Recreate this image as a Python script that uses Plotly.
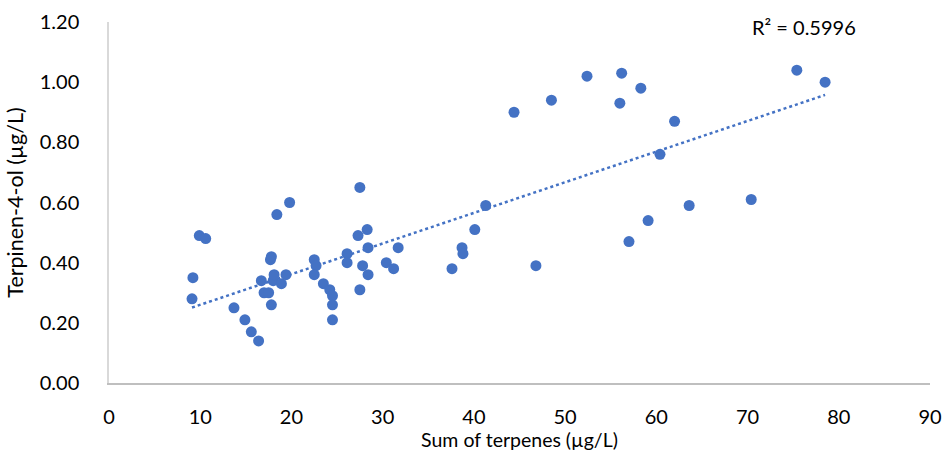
import numpy as np
import plotly.graph_objects as go

# Data
sum_terpenes = [9.1, 9.2, 9.9, 10.6, 13.7, 14.9, 15.6, 16.4, 16.7, 17.0, 17.5, 17.7, 17.8, 17.8,
                18.0, 18.1, 18.4, 18.9, 19.4, 19.8, 22.5, 22.7, 22.5, 23.5, 24.2, 24.5, 24.5,
                24.5, 26.1, 26.1, 27.3, 27.5, 27.5, 27.8, 28.3, 28.4, 28.4, 30.4, 31.2, 31.7,
                37.6, 38.7, 38.8, 40.1, 41.3, 44.4, 46.8, 48.5, 52.4, 56.0, 56.2, 57.0, 58.3,
                59.1, 60.4, 62.0, 63.6, 70.4, 75.4, 78.5]
terpinen_4_ol = [0.28, 0.35, 0.49, 0.48, 0.25, 0.21, 0.17, 0.14, 0.34, 0.30, 0.30, 0.41, 0.42, 0.26,
                 0.34, 0.36, 0.56, 0.33, 0.36, 0.60, 0.41, 0.39, 0.36, 0.33, 0.31, 0.29, 0.26,
                 0.21, 0.43, 0.40, 0.49, 0.65, 0.31, 0.39, 0.51, 0.45, 0.36, 0.40, 0.38, 0.45,
                 0.38, 0.45, 0.43, 0.51, 0.59, 0.90, 0.39, 0.94, 1.02, 0.93, 1.03, 0.47, 0.98,
                 0.54, 0.76, 0.87, 0.59, 0.61, 1.04, 1.00]
r2_label = "R² = 0.5996"
x_ticks = list(range(0, 91, 10))
y_ticks = [0.0, 0.2, 0.4, 0.6, 0.8, 1.0, 1.2]

x = np.array(sum_terpenes)
y = np.array(terpinen_4_ol)
slope, intercept = np.polyfit(x, y, 1)
x_fit = np.array([x.min(), x.max()])
y_fit = slope * x_fit + intercept

blue = "#4472C4"
font_family = "Lato, 'Open Sans', sans-serif"

fig = go.Figure()
fig.add_trace(go.Scatter(
    x=x_fit, y=y_fit, mode="lines",
    line=dict(color=blue, width=2.5, dash="dot"),
    hoverinfo="skip", showlegend=False,
))
fig.add_trace(go.Scatter(
    x=sum_terpenes, y=terpinen_4_ol, mode="markers",
    marker=dict(color=blue, size=11, line=dict(width=0)),
    showlegend=False,
))

fig.add_annotation(
    xref="x", yref="y", x=76.2, y=1.185, text=r2_label, showarrow=False,
    font=dict(size=20, color="#000000", family=font_family),
)

fig.update_layout(
    width=944, height=457,
    margin=dict(l=109, r=14, t=22, b=74),
    paper_bgcolor="white", plot_bgcolor="white",
    font=dict(family=font_family, color="#000000"),
    xaxis=dict(
        range=[0, 90], tickvals=x_ticks, showgrid=False, zeroline=False,
        showline=True, linecolor="#BFBFBF", linewidth=1.5, automargin=False,
        ticks="", ticklabelstandoff=15,
        tickfont=dict(size=20, color="#000000", family=font_family),
        title=dict(text="Sum of terpenes (µg/L)", standoff=4,
                   font=dict(size=19.5, color="#000000", family=font_family)),
    ),
    yaxis=dict(
        range=[0, 1.2], tickvals=y_ticks, tickformat=".2f", showgrid=False, zeroline=False,
        showline=True, linecolor="#D9D9D9", linewidth=1.5, automargin=False,
        ticks="", ticklabelstandoff=24,
        tickfont=dict(size=20, color="#000000", family=font_family),
        title=dict(text="Terpinen-4-ol (µg/L)", standoff=10,
                   font=dict(size=21.5, color="#000000", family=font_family)),
    ),
)

# Remove the browser's default 8px body margin so the figure fills the window.
fig.write_html(
    "out.html",
    config={"displayModeBar": False},
    post_script="document.body.style.margin='0';",
)
